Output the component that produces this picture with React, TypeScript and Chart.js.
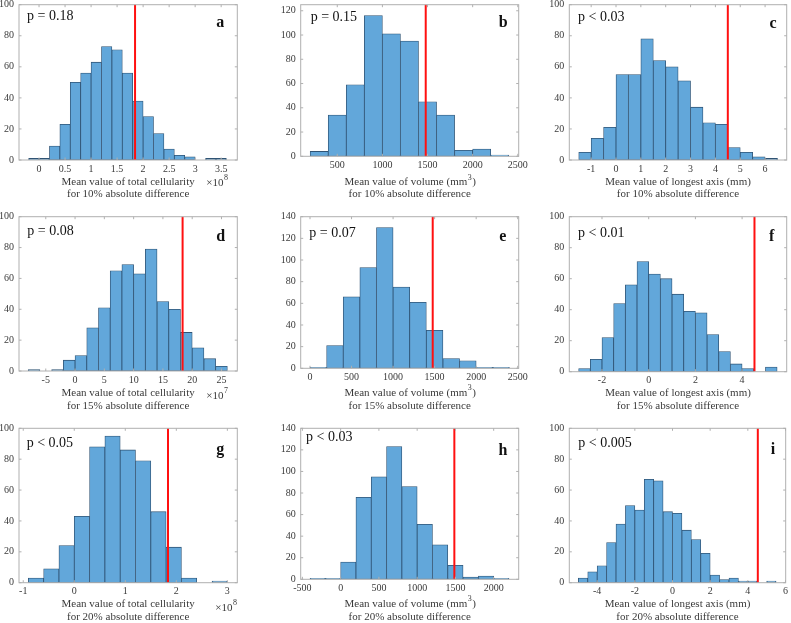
import React, { useEffect, useRef } from "react";
import { Chart, registerables } from "chart.js";
Chart.register(...registerables);

// ---------------- DATA ----------------
// histogram counts per bin (bins: start, width)
const countsA = [1, 1, 9, 23, 50, 56, 63, 73, 71, 56, 38, 28, 17, 7, 3, 2, 0, 1, 1];
const binStartA = -0.2, binWidthA = 0.2; // ×10^8
const countsB = [4, 34, 59, 116, 101, 95, 45, 34, 5, 6, 1];
const binStartB = 200, binWidthB = 200;
const countsC = [5, 14, 21, 55, 55, 78, 64, 60, 51, 34, 24, 23, 8, 5, 2, 1];
const binStartC = -1.5, binWidthC = 0.5;
const countsD = [1, 0, 1, 7, 10, 28, 41, 65, 69, 63, 79, 45, 40, 25, 15, 8, 3];
const binStartD = -8, binWidthD = 2; // ×10^7
const countsE = [1, 21, 66, 93, 130, 75, 61, 35, 9, 7, 1, 1];
const binStartE = 0, binWidthE = 200;
const countsF = [2, 8, 22, 44, 56, 71, 63, 60, 50, 39, 38, 24, 13, 5, 2, 0, 3];
const binStartF = -3, binWidthF = 0.5;
const countsG = [3, 9, 24, 43, 88, 95, 86, 79, 46, 23, 3, 0, 1];
const binStartG = -0.9, binWidthG = 0.3; // ×10^8
const countsH = [1, 1, 16, 76, 95, 123, 86, 51, 32, 13, 2, 3, 1];
const binStartH = -400, binWidthH = 200;
const countsI = [3, 7, 11, 26, 38, 50, 47, 67, 66, 46, 45, 34, 28, 19, 5, 2, 3, 1, 1, 0, 1];
const binStartI = -5, binWidthI = 0.5;

// observed values (red lines)
const observedValues = [1.845, 1480, 4.5, 18.36, 1477, 4.53, 1.837, 1486, 4.53];

// x tick values
const xTicksA = [0, 0.5, 1, 1.5, 2, 2.5, 3, 3.5];
const xTicksB = [500, 1000, 1500, 2000, 2500];
const xTicksC = [-1, 0, 1, 2, 3, 4, 5, 6];
const xTicksD = [-5, 0, 5, 10, 15, 20, 25];
const xTicksE = [0, 500, 1000, 1500, 2000, 2500];
const xTicksF = [-2, 0, 2, 4];
const xTicksG = [-1, 0, 1, 2, 3];
const xTicksH = [-500, 0, 500, 1000, 1500, 2000];
const xTicksI = [-4, -2, 0, 2, 4, 6];

// y tick values
const yTicks100 = [0, 20, 40, 60, 80, 100];
const yTicks120 = [0, 20, 40, 60, 80, 100, 120];
const yTicks140 = [0, 20, 40, 60, 80, 100, 120, 140];

// texts
const pLabels = ["p = 0.18", "p = 0.15", "p < 0.03", "p = 0.08", "p = 0.07", "p < 0.01", "p < 0.05", "p < 0.03", "p < 0.005"];
const panelLetters = ["a", "b", "c", "d", "e", "f", "g", "h", "i"];
const xTitleLine1 = ["Mean value of total cellularity", "Mean value of volume (mm^3)", "Mean value of longest axis (mm)"];
const xTitleLine2 = ["for 10% absolute difference", "for 15% absolute difference", "for 20% absolute difference"];
const exponents = ["8", "7", "8"];

// ---------------- LAYOUT (page pixels) ----------------
const COLS = [
  { rx: 0, rw: 258, L: 19, R: 237.3 },
  { rx: 258, rw: 274, L: 300.7, R: 518.7 },
  { rx: 532, rw: 259, L: 569.3, R: 786.7 },
];
const ROWS = [
  { ry: -10, rh: 215, T: 4.7, t1: 182.6, t2: 194.3 },
  { ry: 205, rh: 211, T: 216.7, t1: 393.3, t2: 406 },
  { ry: 416, rh: 207, T: 428.3, t1: 604.3, t2: 617.3 },
];

const PANELS = [
  { counts: countsA, start: binStartA, width: binWidthA, xTicks: xTicksA, yTicks: yTicks100, yMax: 100, xMin: -0.385, xMax: 3.81, B: 160, pDx: 8, pDy: 12, lDx: 17, lDy: 22.6, expDx: -31, expDy: 22.7 },
  { counts: countsB, start: binStartB, width: binWidthB, xTicks: xTicksB, yTicks: yTicks120, yMax: 125, xMin: 95, xMax: 2510, B: 156.3, pDx: 10, pDy: 12.6, lDx: 15.4, lDy: 22.6 },
  { counts: countsC, start: binStartC, width: binWidthC, xTicks: xTicksC, yTicks: yTicks100, yMax: 100, xMin: -1.88, xMax: 6.87, B: 160, pDx: 8.7, pDy: 12.6, lDx: 13.7, lDy: 23.6 },
  { counts: countsD, start: binStartD, width: binWidthD, xTicks: xTicksD, yTicks: yTicks100, yMax: 100, xMin: -9.57, xMax: 27.7, B: 371, pDx: 8.3, pDy: 15, lDx: 16.6, lDy: 24.3, expDx: -31, expDy: 24.7 },
  { counts: countsE, start: binStartE, width: binWidthE, xTicks: xTicksE, yTicks: yTicks140, yMax: 140, xMin: -112, xMax: 2512, B: 368.3, pDx: 8.6, pDy: 16.6, lDx: 16, lDy: 24 },
  { counts: countsF, start: binStartF, width: binWidthF, xTicks: xTicksF, yTicks: yTicks100, yMax: 100, xMin: -3.4, xMax: 5.91, B: 371.7, pDx: 8.7, pDy: 16.6, lDx: 15, lDy: 24.3 },
  { counts: countsG, start: binStartG, width: binWidthG, xTicks: xTicksG, yTicks: yTicks100, yMax: 100, xMin: -1.083, xMax: 3.195, B: 582.7, pDx: 7.7, pDy: 15, lDx: 17, lDy: 26, expDx: -22, expDy: 25 },
  { counts: countsH, start: binStartH, width: binWidthH, xTicks: xTicksH, yTicks: yTicks140, yMax: 140, xMin: -522, xMax: 2327, B: 579.3, pDx: 5.3, pDy: 9, lDx: 15.7, lDy: 26.7 },
  { counts: countsI, start: binStartI, width: binWidthI, xTicks: xTicksI, yTicks: yTicks100, yMax: 100, xMin: -5.48, xMax: 6.01, B: 582.7, pDx: 9, pDy: 15, lDx: 12.7, lDy: 26 },
];

const SERIF = "'Liberation Serif', 'Times New Roman', serif";
const TEXT_GREY = "#3a3a3a";
const BOX_GREY = "#b0b0b0";

// draw text with a "^x" superscript marker, centered at cx
function drawRich(ctx: CanvasRenderingContext2D, text: string, cx: number, cy: number, size: number, supSize: number) {
  const idx = text.indexOf("^");
  ctx.textBaseline = "middle";
  ctx.textAlign = "left";
  if (idx < 0) {
    ctx.font = `${size}px ${SERIF}`;
    const w = ctx.measureText(text).width;
    ctx.fillText(text, cx - w / 2, cy);
    return;
  }
  const a = text.slice(0, idx);
  const s = text.slice(idx + 1, idx + 2);
  const b = text.slice(idx + 2);
  ctx.font = `${size}px ${SERIF}`;
  const wa = ctx.measureText(a).width;
  const wb = ctx.measureText(b).width;
  ctx.font = `${supSize}px ${SERIF}`;
  const ws = ctx.measureText(s).width;
  let x = cx - (wa + ws + wb) / 2;
  ctx.font = `${size}px ${SERIF}`;
  ctx.fillText(a, x, cy);
  x += wa;
  ctx.font = `${supSize}px ${SERIF}`;
  ctx.fillText(s, x + 0.5, cy - 5);
  x += ws + 1;
  ctx.font = `${size}px ${SERIF}`;
  ctx.fillText(b, x, cy);
}

function Panel({ index }: { index: number }) {
  const ref = useRef<HTMLCanvasElement | null>(null);
  const col = COLS[index % 3];
  const row = ROWS[Math.floor(index / 3)];
  const P = PANELS[index];

  useEffect(() => {
    if (!ref.current) return;
    const rx = col.rx, ry = row.ry, rw = col.rw, rh = row.rh;
    const data = P.counts.map((c, i) => ({ x: P.start + (i + 0.5) * P.width, y: c }));
    const red = observedValues[index];

    const overlay = {
      id: "overlay",
      afterDraw(chart: any) {
        const ctx: CanvasRenderingContext2D = chart.ctx;
        const { left, right, top, bottom } = chart.chartArea;
        const xs = chart.scales.x;
        const ys = chart.scales.y;
        ctx.save();
        // red observed line
        const px = xs.getPixelForValue(red);
        ctx.strokeStyle = "#ff1010";
        ctx.lineWidth = 2;
        ctx.beginPath();
        ctx.moveTo(px, top);
        ctx.lineTo(px, bottom);
        ctx.stroke();
        // axes box
        ctx.strokeStyle = BOX_GREY;
        ctx.lineWidth = 1;
        ctx.strokeRect(left, top, right - left, bottom - top);
        // inward tick marks
        const tl = 2.5;
        ctx.beginPath();
        for (const v of P.xTicks) {
          const x = xs.getPixelForValue(v);
          ctx.moveTo(x, bottom); ctx.lineTo(x, bottom - tl);
          ctx.moveTo(x, top); ctx.lineTo(x, top + tl);
        }
        for (const v of P.yTicks) {
          const y = ys.getPixelForValue(v);
          ctx.moveTo(left, y); ctx.lineTo(left + tl, y);
          ctx.moveTo(right, y); ctx.lineTo(right - tl, y);
        }
        ctx.stroke();
        // p value
        ctx.fillStyle = "#111";
        ctx.font = `14px ${SERIF}`;
        ctx.textAlign = "left";
        ctx.textBaseline = "middle";
        ctx.fillText(pLabels[index], left + P.pDx, top + P.pDy);
        // panel letter
        ctx.font = `bold 16px ${SERIF}`;
        ctx.textAlign = "center";
        ctx.textBaseline = "alphabetic";
        ctx.fillText(panelLetters[index], right - P.lDx, top + P.lDy);
        // x title
        ctx.fillStyle = TEXT_GREY;
        const cx = (left + right) / 2;
        const c = index % 3;
        drawRich(ctx, xTitleLine1[c], cx, row.t1 - ry, 11, 8);
        drawRich(ctx, xTitleLine2[Math.floor(index / 3)], cx, row.t2 - ry, 11, 8);
        // exponent
        if (P.expDx !== undefined) {
          const ex = right + P.expDx;
          const ey = bottom + (P.expDy as number);
          ctx.textAlign = "left";
          ctx.textBaseline = "middle";
          ctx.font = `11px ${SERIF}`;
          ctx.fillText("\u00d710", ex, ey);
          const w = ctx.measureText("\u00d710").width;
          ctx.font = `8px ${SERIF}`;
          ctx.fillText(exponents[Math.floor(index / 3)], ex + w + 0.5, ey - 5);
        }
        ctx.restore();
      },
    };

    const chart = new Chart(ref.current, {
      type: "bar",
      data: {
        datasets: [
          {
            data,
            backgroundColor: "#62a7da",
            borderColor: "#2f5374",
            borderWidth: 0.8,
            borderSkipped: false,
            barPercentage: 1,
            categoryPercentage: 1,
          } as any,
        ],
      },
      options: {
        responsive: false,
        animation: false,
        devicePixelRatio: 1,
        layout: { padding: { top: row.T - ry, right: rx + rw - col.R, left: 0, bottom: 0 } },
        plugins: { legend: { display: false }, tooltip: { enabled: false }, title: { display: false } },
        scales: {
          x: {
            type: "linear",
            min: P.xMin,
            max: P.xMax,
            offset: false,
            grid: { display: false, drawTicks: false, offset: false },
            border: { display: false },
            ticks: {
              autoSkip: false,
              maxRotation: 0,
              minRotation: 0,
              padding: 3,
              color: TEXT_GREY,
              font: { family: SERIF, size: 10 },
              callback: (v: any) => String(v),
            },
            afterBuildTicks: (s: any) => { s.ticks = P.xTicks.map((v) => ({ value: v })); },
            afterFit: (s: any) => { s.height = ry + rh - P.B; },
          },
          y: {
            type: "linear",
            min: 0,
            max: P.yMax,
            grid: { display: false, drawTicks: false },
            border: { display: false },
            ticks: {
              autoSkip: false,
              padding: 5,
              color: TEXT_GREY,
              font: { family: SERIF, size: 10 },
              callback: (v: any) => String(v),
            },
            afterBuildTicks: (s: any) => { s.ticks = P.yTicks.map((v) => ({ value: v })); },
            afterFit: (s: any) => { s.width = col.L - rx; },
          },
        },
      } as any,
      plugins: [overlay],
    });
    return () => chart.destroy();
  }, [index]);

  return (
    <canvas
      ref={ref}
      width={col.rw}
      height={row.rh}
      style={{ position: "absolute", left: col.rx, top: row.ry, width: col.rw, height: row.rh }}
    />
  );
}

export default function App() {
  return (
    <div style={{ position: "absolute", left: 0, top: 0, width: 791, height: 623, overflow: "hidden", background: "#fff" }}>
      {PANELS.map((_, i) => (
        <Panel key={i} index={i} />
      ))}
    </div>
  );
}
